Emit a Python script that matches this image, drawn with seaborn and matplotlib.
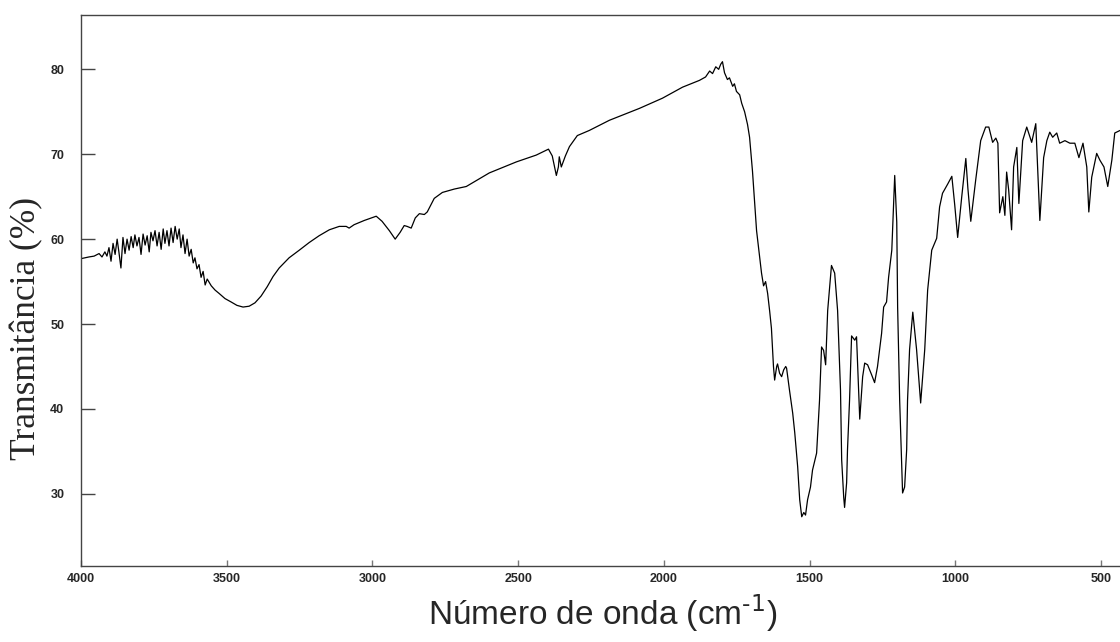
import matplotlib
matplotlib.use("Agg")
import matplotlib.pyplot as plt
import seaborn as sns
import pandas as pd

# ---- data ----
wavenumber = [
    4000, 3973, 3955, 3938, 3928, 3918, 3911, 3904, 3897, 3890, 3883, 3876, 3870, 3863, 3856, 3849,
    3842, 3835, 3828, 3821, 3815, 3808, 3801, 3794, 3787, 3780, 3773, 3766, 3760, 3753, 3746, 3739,
    3732, 3725, 3718, 3712, 3705, 3698, 3691, 3684, 3677, 3670, 3663, 3657, 3650, 3643, 3636, 3629,
    3622, 3615, 3609, 3602, 3595, 3588, 3581, 3574, 3567, 3553, 3540, 3526, 3506, 3485, 3465, 3444,
    3423, 3403, 3382, 3361, 3341, 3320, 3286, 3251, 3217, 3183, 3148, 3114, 3090, 3080, 3063, 3028,
    2987, 2967, 2942, 2922, 2905, 2891, 2881, 2867, 2853, 2839, 2822, 2812, 2788, 2760, 2719, 2678,
    2599, 2506, 2438, 2396, 2383, 2369, 2362, 2359, 2352, 2338, 2324, 2297, 2256, 2187, 2084, 2005,
    1936, 1878, 1857, 1843, 1833, 1822, 1812, 1805, 1799, 1792, 1782, 1775, 1764, 1758, 1751, 1740,
    1733, 1723, 1713, 1706, 1696, 1689, 1682, 1672, 1665, 1658, 1651, 1644, 1637, 1631, 1627, 1624,
    1620, 1613, 1610, 1603, 1596, 1589, 1582, 1579, 1569, 1558, 1551, 1541, 1534, 1527, 1520, 1514,
    1507, 1497, 1490, 1476, 1466, 1459, 1452, 1445, 1438, 1425, 1414, 1404, 1394, 1390, 1383, 1380,
    1373, 1370, 1363, 1356, 1345, 1339, 1335, 1328, 1318, 1311, 1301, 1287, 1277, 1267, 1253, 1246,
    1236, 1229, 1218, 1208, 1201, 1198, 1191, 1184, 1181, 1174, 1167, 1164, 1157, 1146, 1133, 1119,
    1105, 1095, 1081, 1064, 1054, 1044, 1026, 1012, 1002, 992, 978, 964, 957, 947, 930, 913,
    896, 885, 872, 861, 854, 848, 837, 830, 824, 817, 807, 800, 789, 782, 769, 755,
    738, 724, 710, 697, 686, 676, 666, 652, 642, 624, 607, 590, 576, 562, 549, 542,
    532, 515, 504, 490, 477, 463, 453, 435,
]
transmittance = [
    57.7, 57.9, 58.0, 58.3, 57.9, 58.5, 58.0, 59.0, 57.4, 59.5, 58.2, 60.0, 58.5, 56.6, 60.2, 58.3,
    60.0, 58.7, 60.3, 59.0, 60.5, 59.2, 60.2, 58.2, 60.6, 59.3, 60.4, 58.5, 60.8, 59.8, 61.0, 59.2,
    60.8, 58.8, 61.2, 59.5, 61.0, 59.2, 61.3, 59.6, 61.5, 60.0, 61.2, 59.0, 60.5, 58.3, 60.0, 58.0,
    58.8, 57.2, 57.8, 56.5, 57.0, 55.5, 56.2, 54.6, 55.3, 54.5, 54.0, 53.6, 53.0, 52.6, 52.2, 52.0,
    52.1, 52.5, 53.3, 54.4, 55.6, 56.6, 57.8, 58.7, 59.6, 60.4, 61.1, 61.5, 61.5, 61.3, 61.7, 62.2,
    62.7, 62.1, 61.0, 60.0, 60.8, 61.6, 61.5, 61.3, 62.5, 63.0, 62.9, 63.2, 64.8, 65.5, 65.9, 66.2,
    67.8, 69.1, 69.9, 70.6, 69.8, 67.5, 68.5, 69.7, 68.5, 69.8, 70.9, 72.2, 72.8, 74.0, 75.4, 76.6,
    77.9, 78.7, 79.1, 79.8, 79.5, 80.3, 80.0, 80.6, 80.9, 79.6, 78.8, 79.0, 78.0, 78.3, 77.4, 77.0,
    76.0, 75.0, 73.5, 72.0, 68.0, 64.5, 61.0, 58.0, 56.0, 54.5, 55.0, 53.6, 51.5, 49.5, 47.0, 45.0,
    43.4, 45.0, 45.3, 44.2, 43.8, 44.6, 45.0, 44.8, 42.2, 39.5, 37.2, 33.2, 29.3, 27.3, 27.8, 27.5,
    29.3, 30.8, 32.8, 34.8, 41.0, 47.3, 46.9, 45.2, 51.6, 56.9, 56.0, 51.6, 42.2, 34.0, 29.6, 28.4,
    31.3, 35.2, 41.0, 48.6, 48.1, 48.5, 45.0, 38.8, 43.8, 45.4, 45.2, 44.0, 43.1, 45.0, 48.9, 52.0,
    52.6, 55.5, 58.7, 67.5, 62.0, 52.0, 41.0, 33.2, 30.1, 30.8, 35.2, 41.0, 47.0, 51.4, 47.0, 40.7,
    47.0, 54.0, 58.7, 60.1, 63.8, 65.4, 66.5, 67.4, 64.0, 60.2, 65.0, 69.5, 66.0, 62.1, 67.0, 71.6,
    73.2, 73.2, 71.4, 71.9, 71.3, 63.1, 65.0, 62.8, 67.9, 65.8, 61.1, 68.5, 70.8, 64.2, 71.6, 73.2,
    71.4, 73.6, 62.2, 69.6, 71.6, 72.6, 72.0, 72.5, 71.3, 71.6, 71.3, 71.3, 69.6, 71.3, 68.5, 63.2,
    67.3, 70.1, 69.3, 68.5, 66.2, 69.3, 72.5, 72.8,
]
x_ticks = [4000, 3500, 3000, 2500, 2000, 1500, 1000, 500]
y_ticks = [30, 40, 50, 60, 70, 80]

x_label = "Número de onda (cm$^{\\text{-1}}$)"
y_label = "Transmitância (%)"

# ---- style ----
sns.set_style("white")
plt.rcParams["font.family"] = ["Liberation Sans", "DejaVu Sans"]
plt.rcParams["mathtext.default"] = "regular"

df = pd.DataFrame({"wn": wavenumber, "T": transmittance})

fig = plt.figure(figsize=(11.2, 6.42), dpi=100)
ax = fig.add_axes([81 / 1120, 1 - 566 / 642, 1 - 81 / 1120, (566 - 15) / 642])

sns.lineplot(data=df, x="wn", y="T", ax=ax, color="black", linewidth=0.9,
             estimator=None, sort=False)

ax.set_xlim(4000, 435)
ax.set_ylim(21.5, 86.4)
ax.set_xticks(x_ticks)
ax.set_yticks(y_ticks)
ax.set_xlabel("")
ax.set_ylabel("")

for s in ["left", "bottom", "top"]:
    ax.spines[s].set_visible(True)
    ax.spines[s].set_color("#444444")
    ax.spines[s].set_linewidth(1.0)
ax.spines["right"].set_visible(False)

ax.tick_params(axis="y", direction="in", length=10, width=1, color="#444444",
               pad=12, labelsize=9, left=True)
ax.tick_params(axis="x", direction="in", length=4, width=1, color="#777777",
               pad=5, labelsize=9, bottom=True)
for lab in ax.get_xticklabels() + ax.get_yticklabels():
    lab.set_fontweight("bold")

fig.text(27 / 1120, 1 - 329 / 642, y_label, rotation=90, ha="center", va="center",
         fontsize=25.5, family=["Liberation Serif", "DejaVu Serif"])
fig.text(603 / 1120, 1 - 613 / 642, x_label, ha="center", va="center",
         fontsize=24, family=["Liberation Sans", "DejaVu Sans"])

fig.savefig("out.png", dpi=100, facecolor="white")
